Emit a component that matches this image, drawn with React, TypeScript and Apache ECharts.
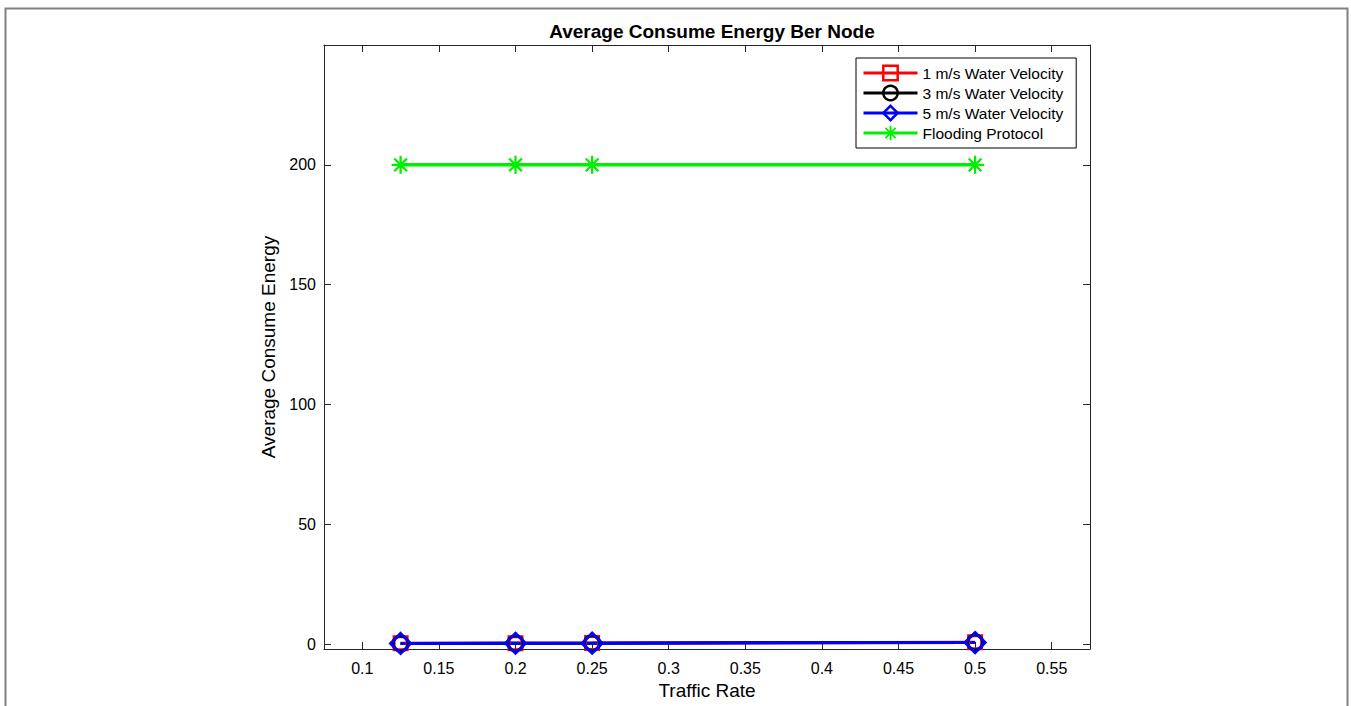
import React, { useEffect, useRef } from "react";
import * as echarts from "echarts";

const trafficRate = [0.125, 0.2, 0.25, 0.5];
const velocity1 = [0.35, 0.45, 0.5, 0.8];
const velocity3 = [0.3, 0.4, 0.45, 0.75];
const velocity5 = [0.3, 0.4, 0.45, 0.7];
const flooding = [200, 200, 200, 200];
const xTicks = [0.1, 0.15, 0.2, 0.25, 0.3, 0.35, 0.4, 0.45, 0.5, 0.55];
const yTicks = [0, 50, 100, 150, 200];
const seriesNames = ["1 m/s Water Velocity", "3 m/s Water Velocity", "5 m/s Water Velocity", "Flooding Protocol"];

const STAR =
  "path://M-1,-8 L1,-8 L1,8 L-1,8 Z M-8,-1 L8,-1 L8,1 L-8,1 Z M-4.95,-6.37 L6.37,4.95 L4.95,6.37 L-6.37,-4.95 Z M4.95,-6.37 L6.37,-4.95 L-4.95,6.37 L-6.37,4.95 Z";

const FONT = "'Liberation Sans', Arial, Helvetica, sans-serif";
const AX = "#262626";

export default function App() {
  const ref = useRef<HTMLDivElement>(null);
  useEffect(() => {
    if (!ref.current) return;
    const chart = echarts.init(ref.current, undefined, { renderer: "svg" });
    const pair = (ys: number[]) => trafficRate.map((x, i) => [x, ys[i]]);
    const mkSeries = (name: string, ys: number[], color: string, symbol: string, size: number, hollow: boolean, lw: number) => ({
      name,
      type: "line",
      data: pair(ys),
      symbol,
      symbolSize: size,
      showAllSymbol: true,
      lineStyle: { color, width: lw },
      itemStyle: hollow
        ? { color: "rgba(0,0,0,0)", borderColor: color, borderWidth: 3 }
        : { color, borderWidth: 0 },
      emphasis: { disabled: true },
      z: 2,
    });
    const axisCommon = {
      axisLine: { show: true, onZero: false, lineStyle: { color: AX, width: 1 } },
      axisTick: { show: true, inside: true, length: 7, lineStyle: { color: AX } },
      splitLine: { show: false },
    };
    chart.setOption({
      animation: false,
      backgroundColor: "#ffffff",
      textStyle: { fontFamily: FONT },
      title: {
        text: "Average Consume Energy Ber Node",
        left: 707,
        textAlign: "center",
        top: 17,
        textStyle: { fontSize: 19, fontWeight: "bold", color: "#000", fontFamily: FONT },
      },
      grid: { left: 324, top: 45, width: 766, height: 604 },
      legend: {
        orient: "vertical",
        left: 856,
        top: 58,
        itemWidth: 54,
        itemHeight: 18,
        itemGap: 2,
        padding: [6, 13, 6, 6],
        borderColor: "#000",
        borderWidth: 1,
        backgroundColor: "#fff",
        data: seriesNames,
        lineStyle: { width: 3 },
        itemStyle: { borderWidth: 2.5 },
        textStyle: { fontSize: 15.5, color: "#000", fontFamily: FONT, lineHeight: 18 },
      },
      xAxis: [
        {
          type: "value",
          min: 0.075,
          max: 0.575,
          position: "bottom",
          name: "Traffic Rate",
          nameLocation: "middle",
          nameGap: 31,
          nameTextStyle: { fontSize: 19, color: "#000" },
          ...axisCommon,
          axisTick: { ...axisCommon.axisTick, customValues: xTicks },
          axisLabel: {
            customValues: xTicks,
            fontSize: 16,
            color: "#000",
            margin: 11,
            formatter: (v: number) => String(parseFloat(v.toFixed(2))),
          },
        },
        {
          type: "value",
          min: 0.075,
          max: 0.575,
          position: "top",
          ...axisCommon,
          axisTick: { ...axisCommon.axisTick, customValues: xTicks },
          axisLabel: { show: false },
        },
      ],
      yAxis: [
        {
          type: "value",
          min: -2,
          max: 250,
          position: "left",
          name: "Average Consume Energy",
          nameLocation: "middle",
          nameGap: 41,
          nameTextStyle: { fontSize: 19, color: "#000" },
          ...axisCommon,
          axisTick: { ...axisCommon.axisTick, customValues: yTicks },
          axisLabel: { customValues: yTicks, fontSize: 16, color: "#000", margin: 8 },
        },
        {
          type: "value",
          min: -2,
          max: 250,
          position: "right",
          ...axisCommon,
          axisTick: { ...axisCommon.axisTick, customValues: yTicks },
          axisLabel: { show: false },
        },
      ],
      graphic: [
        {
          type: "rect",
          left: 3,
          top: 6,
          shape: { x: 0, y: 0, width: 1342, height: 720 },
          style: { fill: "none", stroke: "#808080", lineWidth: 2 },
          silent: true,
          z: -1,
        },
      ],
      series: [
        mkSeries(seriesNames[0], velocity1, "#ff0000", "rect", 13, true, 3),
        mkSeries(seriesNames[1], velocity3, "#000000", "circle", 15, true, 3),
        mkSeries(seriesNames[2], velocity5, "#0000ff", "diamond", 20, true, 3),
        mkSeries(seriesNames[3], flooding, "#00ee00", STAR, 18, false, 3.5),
      ],
    });
    return () => chart.dispose();
  }, []);
  return <div ref={ref} style={{ position: "absolute", left: 0, top: 0, width: 1351, height: 706 }} />;
}
